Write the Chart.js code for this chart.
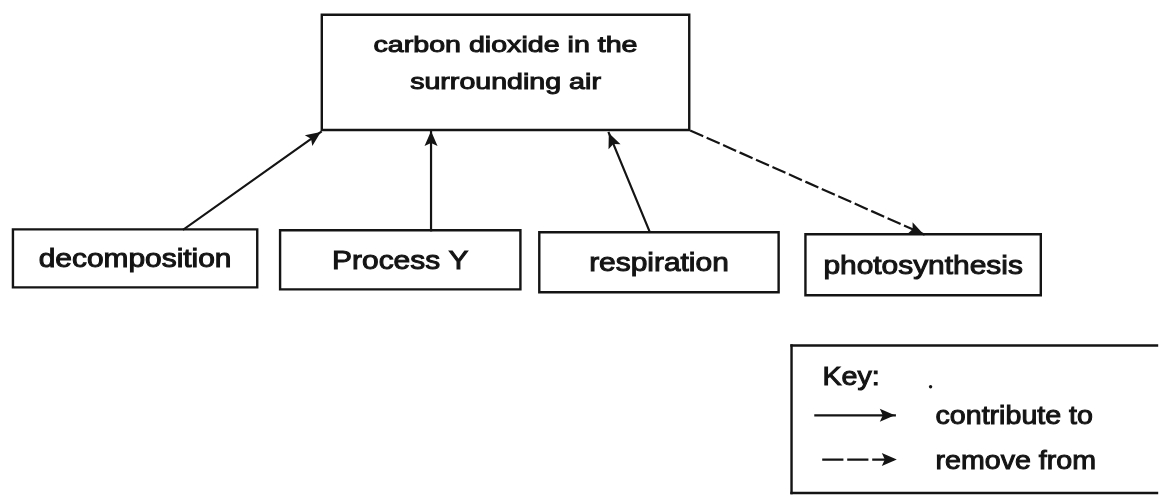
<!DOCTYPE html>
<html>
<head>
<meta charset="utf-8">
<script src="https://cdn.jsdelivr.net/npm/chart.js@4/dist/chart.umd.min.js"></script>
<style>
  html, body { margin: 0; padding: 0; background: #fff; }
  #wrap { width: 1161px; height: 499px; position: relative; }
</style>
</head>
<body>
<div id="wrap"><canvas id="diagram"></canvas></div>
<script>
// boxes of the diagram (page units, y grows downwards)
const nodeLabels = [["carbon dioxide in the", "surrounding air"], ["decomposition"], ["Process Y"], ["respiration"], ["photosynthesis"]];
const nodeLeft   = [320, 9, 278, 539, 807];
const nodeRight  = [690, 255, 520, 780, 1044];
const nodeTop    = [11, 229, 230, 232, 234];
const nodeBottom = [128, 288, 290, 293, 296];

// arrows between boxes
const arrowFromX  = [181, 430, 650, 692];
const arrowFromY  = [229, 230, 231, 129];
const arrowToX    = [319, 430, 609, 926];
const arrowToY    = [130, 129, 131, 234];
const arrowDashed = [false, false, false, true];

// key
const keyTitle  = "Key:";
const keyLabels = ["contribute to", "remove from"];
const keyDashed = [false, true];
const keyBox    = { left: 793, right: 1161, top: 347, bottom: 497 };
const keyLineX0 = [817, 825];
const keyLineX1 = [897, 899];
const keyLineY  = [418, 463];
const keyDot    = { x: 933, y: 389 };

const INK = '#141414';
const FONT = '"Liberation Sans", Arial, sans-serif';

var datasets = [];

function addLine(points, width, dash) {
    datasets.push({
        data: points,
        showLine: true, borderColor: INK, borderWidth: width, pointRadius: 0,
        borderDash: dash || [], borderJoinStyle: 'miter', borderCapStyle: 'square',
        clip: false
    });
    return datasets.length - 1;
}

// box outlines
for (let i = 0; i < nodeLabels.length; i++) {
    addLine([
        { x: nodeLeft[i], y: nodeTop[i] }, { x: nodeRight[i], y: nodeTop[i] },
        { x: nodeRight[i], y: nodeBottom[i] }, { x: nodeLeft[i], y: nodeBottom[i] },
        { x: nodeLeft[i], y: nodeTop[i] }
    ], 2.4);
}
// key frame: top, left, bottom only (it runs off the page on the right)
addLine([{ x: keyBox.left, y: keyBox.top }, { x: keyBox.right, y: keyBox.top }], 2.4);
addLine([{ x: keyBox.left, y: keyBox.top }, { x: keyBox.left, y: keyBox.bottom }], 2.4);
addLine([{ x: keyBox.left, y: keyBox.bottom }, { x: keyBox.right, y: keyBox.bottom }], 2.4);

// arrow shafts (heads drawn by plugin)
var arrowSets = [];
for (let i = 0; i < arrowFromX.length; i++) {
    arrowSets.push(addLine([{ x: arrowFromX[i], y: arrowFromY[i] }, { x: arrowToX[i], y: arrowToY[i] }],
        2.2, arrowDashed[i] ? [12, 6] : []));
}
for (let i = 0; i < keyLabels.length; i++) {
    arrowSets.push(addLine([{ x: keyLineX0[i], y: keyLineY[i] }, { x: keyLineX1[i], y: keyLineY[i] }],
        2.2, keyDashed[i] ? [19, 6] : []));
}
datasets.push({
    data: [keyDot], pointRadius: 1.7, pointBackgroundColor: INK, pointBorderWidth: 0
});

function drawText(ctx, str, x, y, size, sx, align) {
    ctx.save();
    ctx.translate(x, y);
    ctx.scale(sx, 1);
    ctx.font = size + 'px ' + FONT;
    ctx.textAlign = align;
    ctx.textBaseline = 'alphabetic';
    ctx.fillStyle = INK;
    ctx.strokeStyle = INK;
    ctx.lineWidth = 1.0;
    ctx.fillText(str, 0, 0);
    ctx.strokeText(str, 0, 0);
    ctx.restore();
}

const diagramPlugin = {
    id: 'diagram',
    afterDatasetsDraw(chart) {
        const ctx = chart.ctx;
        const xs = chart.scales.x, ys = chart.scales.y;

        // arrow heads
        arrowSets.forEach(function (idx) {
            const pts = chart.getDatasetMeta(idx).data;
            const a = pts[0], b = pts[1];
            const ang = Math.atan2(b.y - a.y, b.x - a.x);
            const len = 15, half = 6.5;
            ctx.save();
            ctx.translate(b.x, b.y);
            ctx.rotate(ang);
            ctx.beginPath();
            ctx.moveTo(0, 0);
            ctx.lineTo(-len, -half);
            ctx.lineTo(-len + 3, 0);
            ctx.lineTo(-len, half);
            ctx.closePath();
            ctx.fillStyle = INK;
            ctx.fill();
            ctx.restore();
        });

        // box labels
        for (let i = 0; i < nodeLabels.length; i++) {
            const cx = (xs.getPixelForValue(nodeLeft[i]) + xs.getPixelForValue(nodeRight[i])) / 2;
            if (nodeLabels[i].length > 1) {
                const top = ys.getPixelForValue(nodeTop[i]);
                nodeLabels[i].forEach(function (line, k) {
                    drawText(ctx, line, cx, top + 37 + k * 37, 22, 1.3, 'center');
                });
            } else {
                const cy = (ys.getPixelForValue(nodeTop[i]) + ys.getPixelForValue(nodeBottom[i])) / 2;
                drawText(ctx, nodeLabels[i][0], cx, cy + 9, 26, 1.15, 'center');
            }
        }

        // key texts
        drawText(ctx, keyTitle, xs.getPixelForValue(keyBox.left) + 31, ys.getPixelForValue(keyBox.top) + 40, 26, 1.1, 'left');
        for (let i = 0; i < keyLabels.length; i++) {
            drawText(ctx, keyLabels[i], xs.getPixelForValue(938), ys.getPixelForValue(keyLineY[i]) + 9, 26, 1.1, 'left');
        }
    }
};

const config = {
    type: 'scatter',
    data: { datasets: datasets },
    options: {
        responsive: true,
        maintainAspectRatio: false,
        animation: false,
        events: [],
        layout: { padding: 0 },
        scales: {
            x: { type: 'linear', min: 0, max: 1161, display: false },
            y: { type: 'linear', min: 0, max: 499, reverse: true, display: false }
        },
        plugins: {
            legend: { display: false },
            tooltip: { enabled: false }
        }
    },
    plugins: [diagramPlugin]
};

new Chart(document.getElementById('diagram'), config);
</script>
</body>
</html>
